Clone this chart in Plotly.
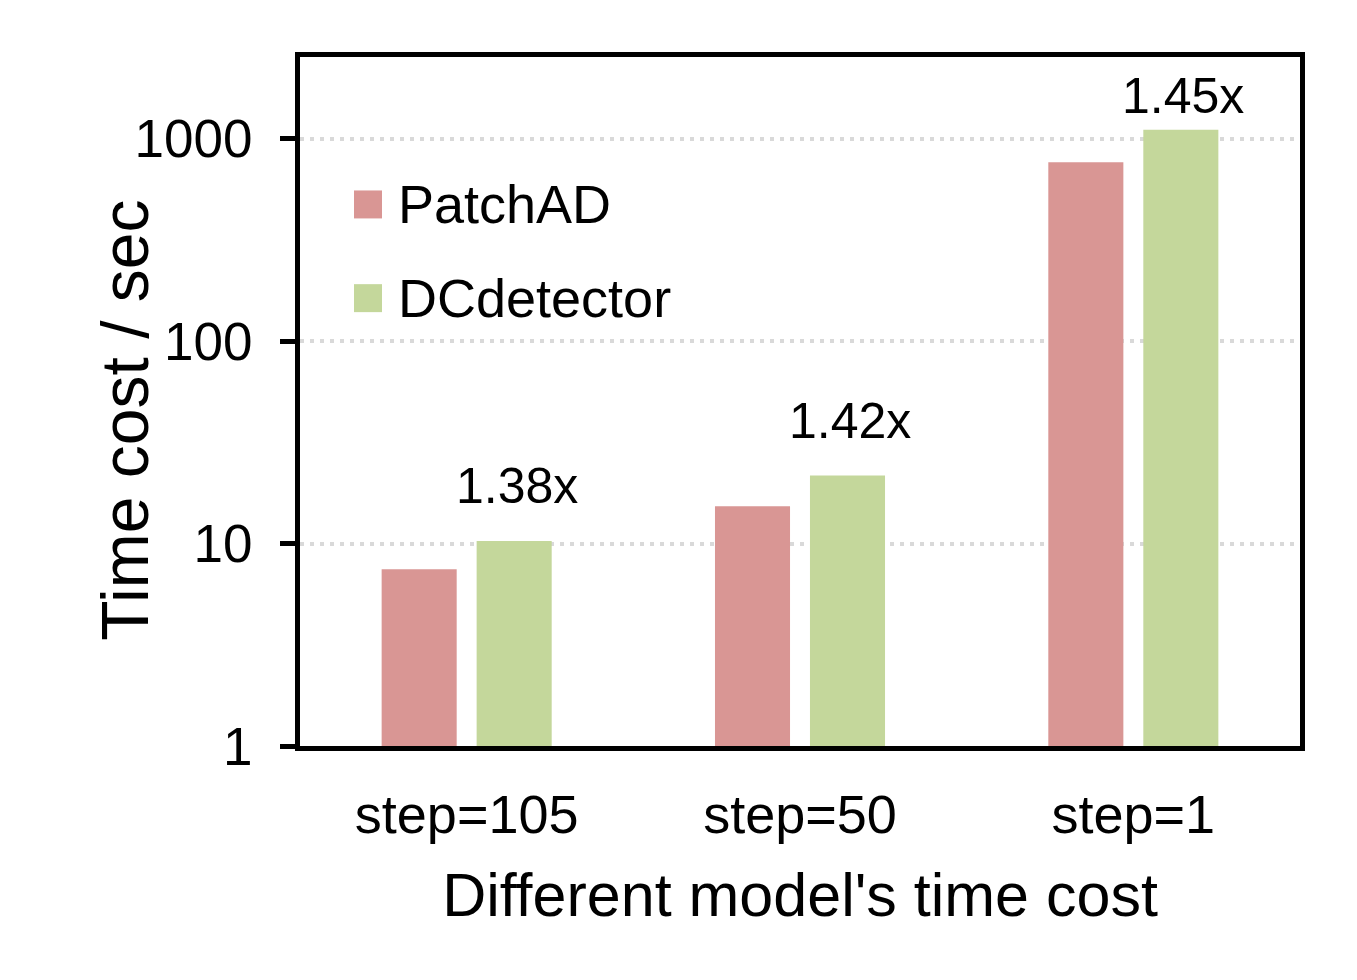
import plotly.graph_objects as go
import math

categories = ["step=105", "step=50", "step=1"]
patchad = [7.47, 15.3, 764]
dcdetector = [10.3, 21.7, 1107]
ratio_labels = ["1.38x", "1.42x", "1.45x"]
series_names = ["PatchAD", "DCdetector"]
colors = ["#D99694", "#C4D79B"]
y_tickvals = [1, 10, 100, 1000]
y_ticktext = ["1", "10", "100", "1000"]

FONT = "Liberation Sans, Arial, sans-serif"

fig = go.Figure()
for name, vals, col in zip(series_names, [patchad, dcdetector], colors):
    fig.add_trace(go.Bar(x=categories, y=vals, name=name,
                         marker=dict(color=col, line=dict(width=0)),
                         showlegend=False))

# ratio labels above DCdetector bars
label_yshift = [55, 54, 34]
for cat, v, lab, ys in zip(categories, dcdetector, ratio_labels, label_yshift):
    fig.add_annotation(x=cat, y=math.log10(v), xref="x", yref="y", text=lab,
                       showarrow=False, xshift=50, yshift=ys, yanchor="middle",
                       font=dict(family=FONT, size=50, color="black"))

# legend drawn manually (large square swatches)
leg_y = [0.786, 0.650]
for name, col, ly in zip(series_names, colors, leg_y):
    fig.add_shape(type="rect", xref="paper", yref="paper",
                  x0=0.054, x1=0.082, y0=ly - 0.0203, y1=ly + 0.0203,
                  fillcolor=col, line=dict(width=0))
    fig.add_annotation(x=0.096, y=ly, xref="paper", yref="paper", text=name,
                       showarrow=False, xanchor="left", yanchor="middle",
                       font=dict(family=FONT, size=54, color="black"))

# y-axis title (placed like the original, close to the tick labels)
fig.add_annotation(x=-0.175, y=0.472, xref="paper", yref="paper",
                   text="Time cost / sec", textangle=-90, showarrow=False,
                   xanchor="center", yanchor="middle",
                   font=dict(family=FONT, size=66, color="black"))

fig.update_layout(
    width=1357, height=980,
    margin=dict(l=292, r=65, t=49, b=242),
    paper_bgcolor="white", plot_bgcolor="white",
    bargap=0.43, bargroupgap=0.21,
    font=dict(family=FONT, color="black"),
    showlegend=False,
)
fig.update_xaxes(
    showline=True, linecolor="black", linewidth=5, mirror=True,
    ticks="", showgrid=False,
    tickfont=dict(family=FONT, size=54, color="black"),
    ticklabelstandoff=17,
    title=dict(text="Different model's time cost",
               font=dict(family=FONT, size=61, color="black"), standoff=32),
)
fig.update_yaxes(
    type="log", range=[0, 3.403],
    tickvals=y_tickvals, ticktext=y_ticktext,
    showline=True, linecolor="black", linewidth=5, mirror=True,
    ticks="outside", ticklen=15, tickwidth=5, tickcolor="black",
    tickfont=dict(family=FONT, size=53, color="black"),
    ticklabelstandoff=17,
    showgrid=True, gridcolor="#D9D9D9", gridwidth=4, griddash="4px,6px",
    zeroline=False,
)

fig.write_html("out.html")
